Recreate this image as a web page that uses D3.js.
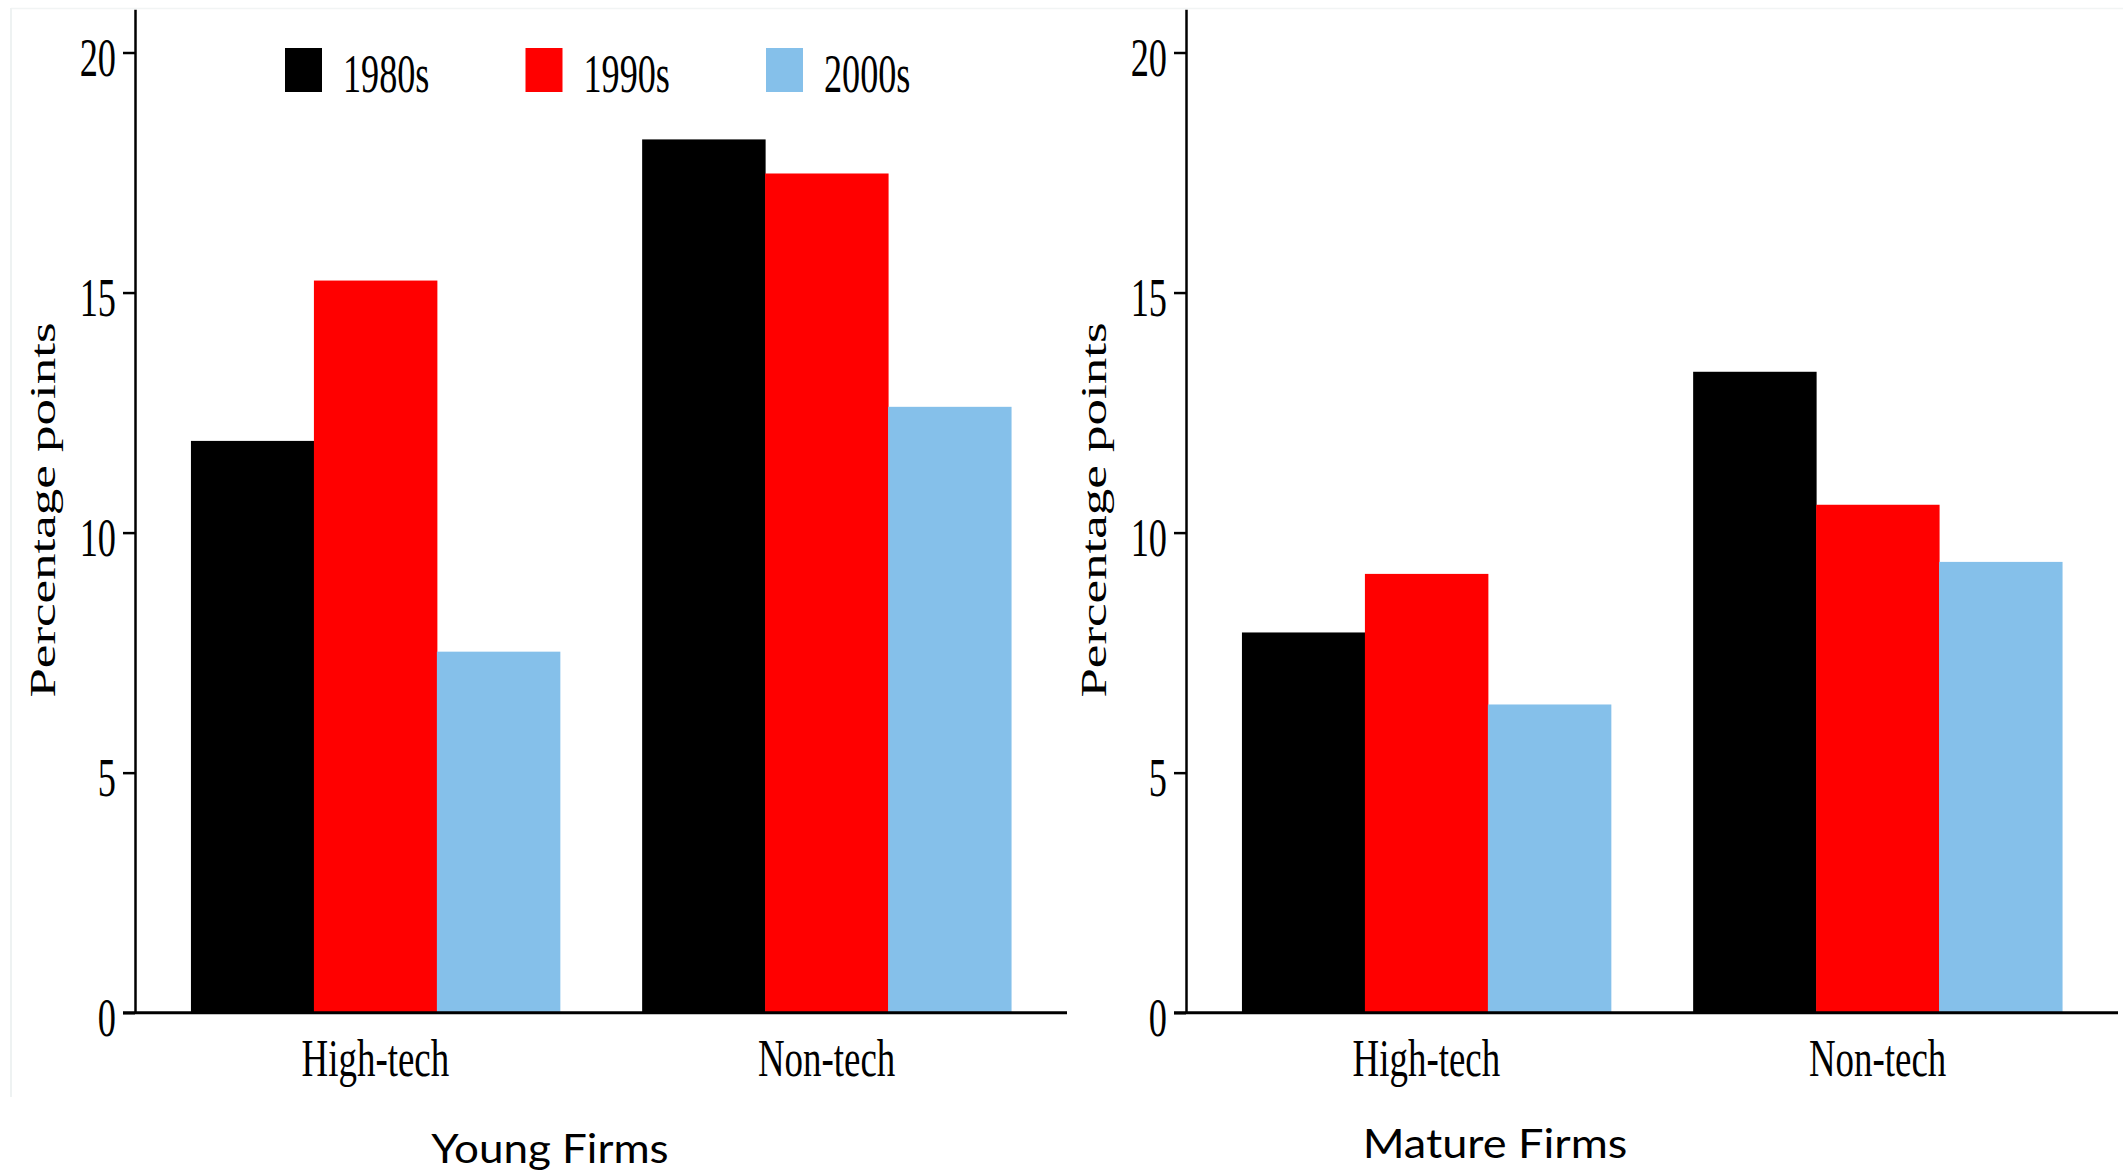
<!DOCTYPE html>
<html>
<head>
<meta charset="utf-8">
<script src="https://cdn.jsdelivr.net/npm/d3@7"></script>
<style>
  html, body { margin: 0; padding: 0; background: #ffffff; }
  svg { display: block; }
</style>
</head>
<body>
<svg id="chart" width="2123" height="1173"></svg>
<script>
// Contribution by decade, in percentage points
const categories = ["High-tech", "Non-tech"];
const decades = ["1980s", "1990s", "2000s"];
const decadeColors = ["#000000", "#ff0000", "#85c0ea"];

const young1980s = [11.91, 18.19];
const young1990s = [15.25, 17.48];
const young2000s = [7.52, 12.62];

const mature1980s = [7.92, 13.35];
const mature1990s = [9.14, 10.58];
const mature2000s = [6.42, 9.39];

const yTicks = [0, 5, 10, 15, 20];
const yLabel = "Percentage points";

const serif = "'Liberation Serif', 'Times New Roman', serif";
const sans = "Lato, 'Open Sans', sans-serif";

const svg = d3.select("#chart");

// faint frame line along the top and left edge
svg.append("line").attr("x1", 11).attr("x2", 2123).attr("y1", 8.5).attr("y2", 8.5)
  .attr("stroke", "#f1f4f4").attr("stroke-width", 1.5);
svg.append("line").attr("x1", 11).attr("x2", 11).attr("y1", 8).attr("y2", 1097)
  .attr("stroke", "#eef2f2").attr("stroke-width", 2);

const y = d3.scaleLinear().domain([0, 20.9]).range([1012.7, 9.3]);

function drawPanel(p) {
  const g = svg.append("g");
  const x0 = d3.scaleBand().domain(categories).range([p.left, p.right])
    .paddingInner(0.1824).paddingOuter(0.124);
  const x1 = d3.scaleBand().domain(decades).range([0, x0.bandwidth()]).padding(0);

  // bars
  p.series.forEach((vals, si) => {
    g.append("g").attr("fill", decadeColors[si])
      .selectAll("rect").data(categories).join("rect")
      .attr("x", c => x0(c) + x1(decades[si]))
      .attr("width", x1.bandwidth() + 0.5)
      .attr("y", (c, ci) => y(vals[ci]))
      .attr("height", (c, ci) => y(0) - y(vals[ci]));
  });

  // y axis
  const ya = g.append("g").attr("transform", `translate(${p.left},0)`)
    .call(d3.axisLeft(y).tickValues(yTicks).tickSize(12).tickSizeOuter(0));
  ya.select(".domain").attr("stroke", "#000").attr("stroke-width", 2.5);
  ya.selectAll(".tick line").attr("stroke", "#000").attr("stroke-width", 2.5);
  ya.selectAll(".tick text")
    .attr("x", null)
    .attr("transform", "translate(-19,5) scale(0.66,1)")
    .attr("font-family", serif).attr("font-size", 55).attr("fill", "#000");

  // x axis baseline
  g.append("line")
    .attr("x1", p.left - 12).attr("x2", p.right)
    .attr("y1", y(0)).attr("y2", y(0))
    .attr("stroke", "#000").attr("stroke-width", 3);

  // category labels
  g.selectAll("text.cat").data(categories).join("text")
    .attr("class", "cat")
    .attr("transform", c => `translate(${x0(c) + x0.bandwidth() / 2},1076) scale(0.71,1)`)
    .attr("text-anchor", "middle")
    .attr("font-family", serif).attr("font-size", 52).attr("fill", "#000")
    .text(c => c);

  // y axis title
  g.append("text")
    .attr("transform", `translate(${p.left - 80},510) rotate(-90) scale(1,0.66)`)
    .attr("text-anchor", "middle")
    .attr("font-family", serif).attr("font-size", 53).attr("fill", "#000")
    .text(yLabel);

  // panel title
  g.append("text")
    .attr("transform", `translate(${p.titleX},${p.titleY}) scale(1.1,1)`)
    .attr("text-anchor", "middle")
    .attr("font-family", sans).attr("font-size", p.titleSize).attr("fill", "#000")
    .text(p.title);
}

drawPanel({
  left: 135, right: 1067,
  series: [young1980s, young1990s, young2000s],
  title: "Young Firms", titleX: 550, titleY: 1163, titleSize: 40
});
drawPanel({
  left: 1186, right: 2118,
  series: [mature1980s, mature1990s, mature2000s],
  title: "Mature Firms", titleX: 1495, titleY: 1158, titleSize: 41
});

// legend
const legend = svg.append("g").selectAll("g").data(decades).join("g")
  .attr("transform", (d, i) => `translate(${285 + i * 240.5},48)`);
legend.append("rect")
  .attr("width", 37).attr("height", 44)
  .attr("fill", (d, i) => decadeColors[i]);
legend.append("text")
  .attr("transform", "translate(58,44) scale(0.67,1)")
  .attr("font-family", serif).attr("font-size", 54).attr("fill", "#000")
  .text(d => d);
</script>
</body>
</html>
